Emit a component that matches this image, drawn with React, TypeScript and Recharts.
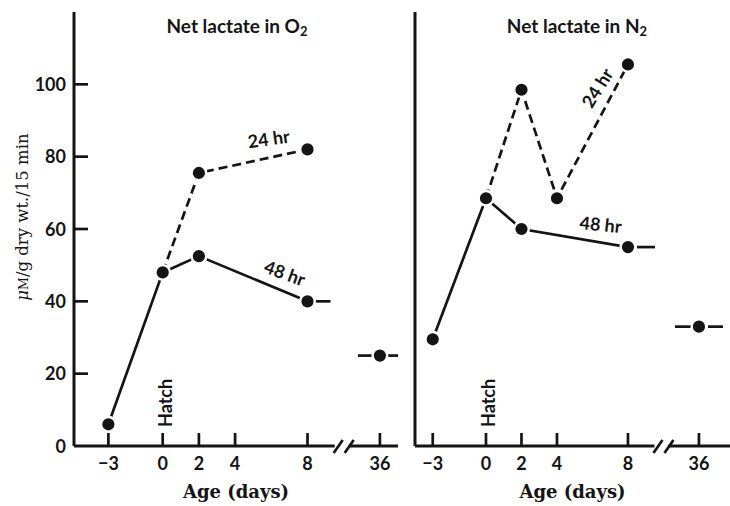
import { ComposedChart, Line, XAxis, YAxis, Label } from "recharts";

// y axis
const yTicks = [0, 20, 40, 60, 80, 100];
// x axis (days); 36 sits after the axis break
const dayTicks = [-3, 0, 2, 4, 8, 36];

// Net lactate in O2
const o2EarlyDays = [-3, 0];
const o2EarlyValues = [6, 48];
const o2Hr48Days = [0, 2, 8];
const o2Hr48Values = [48, 52.5, 40];
const o2Hr24Days = [0, 2, 8];
const o2Hr24Values = [48, 75.5, 82];
const o2AdultDays = [36];
const o2AdultValues = [25];

// Net lactate in N2
const n2EarlyDays = [-3, 0];
const n2EarlyValues = [29.5, 68.5];
const n2Hr48Days = [0, 2, 8];
const n2Hr48Values = [68.5, 60, 55];
const n2Hr24Days = [0, 2, 4, 8];
const n2Hr24Values = [68.5, 98.5, 68.5, 105.5];
const n2AdultDays = [36];
const n2AdultValues = [33];

const INK = "#141414";
const SANS = "Lato, 'Open Sans', sans-serif";
const SERIF = "'DejaVu Serif', serif";

// broken axis: day 36 is drawn at position 12, the break mark at 10
const AXIS_BREAK = 10;
const toAxis = (day: number) => (day === 36 ? 12 : day);
const rows = (days: number[], values: number[]) =>
  days.map((d, i) => ({ x: toAxis(d), y: values[i] }));
const xTicks = [...dayTicks.map(toAxis), AXIS_BREAK].sort((a, b) => a - b);

function tickText(v: number) {
  const day = dayTicks.find((d) => toAxis(d) === v);
  if (day === undefined) return "";
  return day < 0 ? `\u2212${Math.abs(day)}` : String(day);
}

function XTick(props: any) {
  const { x, y, payload } = props;
  const v = payload.value;
  if (v === AXIS_BREAK) {
    return (
      <g>
        <rect x={x - 9} y={y - 4} width={14} height={8} fill="#fff" />
        <line x1={x - 10} y1={y + 7} x2={x - 1} y2={y - 6} stroke={INK} strokeWidth={2.7} />
        <line x1={x + 1} y1={y + 7} x2={x + 10} y2={y - 6} stroke={INK} strokeWidth={2.7} />
      </g>
    );
  }
  return (
    <g>
      <line x1={x} y1={y} x2={x} y2={y - 13} stroke={INK} strokeWidth={2.7} />
      <text x={x} y={y + 24} textAnchor="middle" fill={INK} fontSize={18} fontWeight={700} fontFamily={SANS}>
        {tickText(v)}
      </text>
      {v === 0 && (
        <text
          x={x + 9}
          y={y - 19}
          transform={`rotate(-90, ${x + 9}, ${y - 19})`}
          fill={INK}
          fontSize={18}
          fontWeight={700}
          fontFamily={SANS}
        >
          Hatch
        </text>
      )}
    </g>
  );
}

function YTick(props: any) {
  const { x, y, payload } = props;
  return (
    <g>
      {payload.value !== 0 && <line x1={x} y1={y} x2={x + 14} y2={y} stroke={INK} strokeWidth={2.7} />}
      <text x={x - 8} y={y + 6.5} textAnchor="end" fill={INK} fontSize={18} fontWeight={700} fontFamily={SANS}>
        {payload.value}
      </text>
    </g>
  );
}

type SeriesLabel = { index: number; text: string; dx: number; dy: number; angle: number };
type DotCfg = { skip?: number[]; flank?: { index: number; left: number[] | null; right: number[] | null }; label?: SeriesLabel };

function makeDot(cfg: DotCfg) {
  return (props: any) => {
    const { cx, cy, index } = props;
    const key = `d-${index}`;
    if (cx == null || cy == null) return <g key={key} />;
    const lbl = cfg.label && cfg.label.index === index ? cfg.label : null;
    const fl = cfg.flank && cfg.flank.index === index ? cfg.flank : null;
    const hide = cfg.skip && cfg.skip.includes(index);
    return (
      <g key={key}>
        {fl && fl.left && (
          <line x1={cx - fl.left[1]} y1={cy} x2={cx - fl.left[0]} y2={cy} stroke={INK} strokeWidth={2.7} />
        )}
        {fl && fl.right && (
          <line x1={cx + fl.right[0]} y1={cy} x2={cx + fl.right[1]} y2={cy} stroke={INK} strokeWidth={2.7} />
        )}
        {!hide && <circle cx={cx} cy={cy} r={7.3} fill={INK} stroke="#fff" strokeWidth={2.4} />}
        {lbl && (
          <text
            x={cx + lbl.dx}
            y={cy + lbl.dy}
            textAnchor="middle"
            transform={`rotate(${lbl.angle}, ${cx + lbl.dx}, ${cy + lbl.dy})`}
            fill={INK}
            fontSize={18}
            fontWeight={700}
            fontFamily={SANS}
          >
            {lbl.text}
          </text>
        )}
      </g>
    );
  };
}

type Series = { data: { x: number; y: number }[]; dashed?: boolean; dot: DotCfg };

function Panel({
  width,
  xDomain,
  yAxisWidth,
  rightMargin,
  showYTicks,
  series,
}: {
  width: number;
  xDomain: [number, number];
  yAxisWidth: number;
  rightMargin: number;
  showYTicks: boolean;
  series: Series[];
}) {
  return (
    <ComposedChart width={width} height={506} margin={{ top: 12, right: rightMargin, bottom: 0, left: 0 }}>
      <XAxis
        type="number"
        dataKey="x"
        domain={xDomain}
        allowDataOverflow
        ticks={xTicks}
        interval={0}
        tickSize={0}
        tickMargin={0}
        height={60}
        axisLine={{ stroke: INK, strokeWidth: 3 }}
        tickLine={false}
        tick={(p: any) => <XTick {...p} />}
      >
        <Label
          content={(p: any) => {
            const vb = p.viewBox;
            return (
              <text
                x={vb.x + vb.width / 2}
                y={vb.y + 52}
                textAnchor="middle"
                fill={INK}
                fontSize={18}
                fontWeight={700}
                fontFamily={SERIF}
              >
                Age (days)
              </text>
            );
          }}
        />
      </XAxis>
      <YAxis
        type="number"
        domain={[0, 120]}
        allowDataOverflow
        ticks={yTicks}
        interval={0}
        width={yAxisWidth}
        tickSize={0}
        tickMargin={0}
        axisLine={{ stroke: INK, strokeWidth: 3 }}
        tickLine={false}
        tick={showYTicks ? (p: any) => <YTick {...p} /> : false}
      >
        {showYTicks && (
          <Label
            content={() => (
              <text
                x={28}
                y={217}
                textAnchor="middle"
                transform="rotate(-90, 28, 217)"
                fill={INK}
                fontSize={16.5}
                fontFamily={SERIF}
              >
                <tspan fontStyle="italic">μ</tspan>
                <tspan fontSize={12.5}>M</tspan>
                <tspan>/g dry wt./15 min</tspan>
              </text>
            )}
          />
        )}
      </YAxis>
      {series.map((s, i) => (
        <Line
          key={i}
          data={s.data}
          dataKey="y"
          type="linear"
          stroke={INK}
          strokeWidth={2.7}
          strokeDasharray={s.dashed ? "9 5" : undefined}
          dot={makeDot(s.dot)}
          activeDot={false}
          legendType="none"
          isAnimationActive={false}
        />
      ))}
    </ComposedChart>
  );
}

const o2Series: Series[] = [
  {
    data: rows(o2Hr24Days, o2Hr24Values),
    dashed: true,
    dot: { skip: [0], label: { index: 2, text: "24 hr", dx: -38, dy: -4, angle: -8 } },
  },
  {
    data: rows(o2Hr48Days, o2Hr48Values),
    dot: {
      skip: [0],
      flank: { index: 2, left: null, right: [8, 23] },
      label: { index: 2, text: "48 hr", dx: -25, dy: -22, angle: 20 },
    },
  },
  { data: rows(o2EarlyDays, o2EarlyValues), dot: {} },
  { data: rows(o2AdultDays, o2AdultValues), dot: { flank: { index: 0, left: [7, 22], right: [7, 21] } } },
];

const n2Series: Series[] = [
  {
    data: rows(n2Hr24Days, n2Hr24Values),
    dashed: true,
    dot: { skip: [0], label: { index: 3, text: "24 hr", dx: -25, dy: 27, angle: -58 } },
  },
  {
    data: rows(n2Hr48Days, n2Hr48Values),
    dot: {
      skip: [0],
      flank: { index: 2, left: null, right: [9, 27] },
      label: { index: 2, text: "48 hr", dx: -28, dy: -16, angle: 6 },
    },
  },
  { data: rows(n2EarlyDays, n2EarlyValues), dot: {} },
  { data: rows(n2AdultDays, n2AdultValues), dot: { flank: { index: 0, left: [8, 24], right: [9, 24] } } },
];

export default function App() {
  return (
    <div style={{ position: "absolute", left: 0, top: 0, width: 730, height: 506, background: "#fff", overflow: "hidden" }}>
      <div style={{ position: "absolute", left: 0, top: 0 }}>
        <Panel width={410} xDomain={[-4.9, 13]} yAxisWidth={74} rightMargin={12} showYTicks series={o2Series} />
      </div>
      <div style={{ position: "absolute", left: 400, top: 0 }}>
        <Panel width={330} xDomain={[-4, 13.75]} yAxisWidth={15} rightMargin={0} showYTicks={false} series={n2Series} />
      </div>
      <svg width={730} height={506} style={{ position: "absolute", left: 0, top: 0, pointerEvents: "none" }}>
        <text x={237} y={33} textAnchor="middle" fill={INK} fontSize={19} fontFamily={SANS} fontWeight={700}>
          Net lactate in O<tspan fontSize={13} dy={3}>2</tspan>
        </text>
        <text x={577} y={33} textAnchor="middle" fill={INK} fontSize={19} fontFamily={SANS} fontWeight={700}>
          Net lactate in N<tspan fontSize={13} dy={3}>2</tspan>
        </text>
      </svg>
    </div>
  );
}
